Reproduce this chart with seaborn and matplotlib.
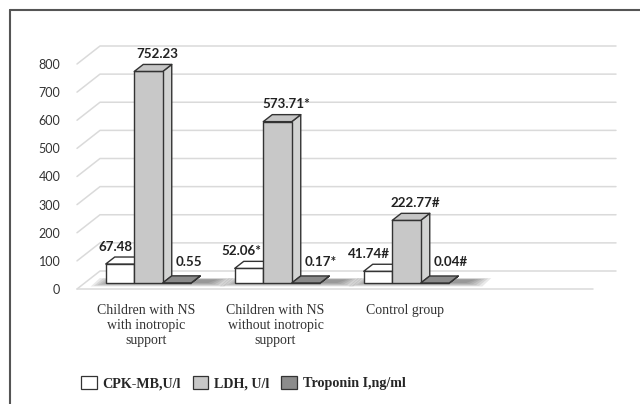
import numpy as np
import pandas as pd
import matplotlib
matplotlib.use("Agg")
import matplotlib.pyplot as plt
import matplotlib.transforms as mtransforms
from matplotlib.patches import Polygon, Patch
from matplotlib.lines import Line2D
import seaborn as sns

# ---------------- data ----------------
categories = ["Children with NS\nwith inotropic\nsupport",
              "Children with NS\nwithout inotropic\nsupport",
              "Control group"]
series_names = ["CPK-MB,U/l", "LDH, U/l", "Troponin I,ng/ml"]
cpk = [67.48, 52.06, 41.74]
ldh = [752.23, 573.71, 222.77]
trop = [0.55, 0.17, 0.04]
cpk_marks = ["", "*", "#"]
ldh_marks = ["", "*", "#"]
trop_marks = ["", "*", "#"]
yticks = [0, 100, 200, 300, 400, 500, 600, 700, 800]

# ---------------- styling ----------------
sns.set_style("white")
plt.rcParams["font.family"] = ["Lato", "DejaVu Sans"]

face_front = ["#ffffff", "#c8c8c8", "#8c8c8c"]
face_top = ["#ffffff", "#c6c6c6", "#8a8a8a"]
face_side = ["#ffffff", "#d2d3d2", "#6e6e6e"]
edge = "#333333"

W, H = 640, 404
fig = plt.figure(figsize=(W / 100, H / 100), dpi=100)
# axes = front plane of the 3D chart
ax_l, ax_r, ax_t, ax_b = 77, 593, 64, 289
ax = fig.add_axes([ax_l / W, 1 - ax_b / H, (ax_r - ax_l) / W, (ax_b - ax_t) / H])

df = pd.DataFrame({
    "category": np.repeat(categories, 3),
    "series": series_names * len(categories),
    "value": np.ravel(np.column_stack([cpk, ldh, trop])),
})

sns.barplot(data=df, x="category", y="value", hue="series", order=categories,
            hue_order=series_names, palette=face_front, width=0.663,
            edgecolor=edge, linewidth=1.0, saturation=1, legend=False, ax=ax)

ax.set_xlim(-0.5, 3.5)
ax.set_ylim(0, 800)
ax.set_yticks(yticks)
ax.set_xticks(range(len(categories)))
ax.set_xticklabels(categories, fontfamily="Liberation Serif", fontsize=10,
                   color="#333333")
ax.set_xlabel("")
ax.set_ylabel("")
for s in ax.spines.values():
    s.set_visible(False)
ax.grid(False)
ax.tick_params(axis="both", length=0)
ax.tick_params(axis="y", pad=12, labelsize=9, labelcolor="#333333")
ax.tick_params(axis="x", pad=11)
for lab in ax.get_xticklabels():
    lab.set_transform(lab.get_transform() +
                      mtransforms.ScaledTranslation(0.05, 0, fig.dpi_scale_trans))

# pixel -> data conversion
sx = 1.0 / ((ax_r - ax_l) / 4.0)          # per px horizontally
sy = 800.0 / (ax_b - ax_t)                # per px vertically

# back wall / floor gridlines (depth offset 23px right, 18px up)
gdx, gdy = 23 * sx, 18 * sy
gcol = "#dadada"
for v in yticks:
    ax.plot([-0.5, -0.5 + gdx, 3.5 + gdx], [v, v + gdy, v + gdy],
            color=gcol, lw=1.1, clip_on=False, zorder=0.5)
ax.plot([-0.5, 3.5], [0, 0], color=gcol, lw=1.1, clip_on=False, zorder=0.5)

# bars: move to mid depth, add top and side faces
ox, oy = 7 * sx, 6 * sy
ddx, ddy = 9 * sx, 7 * sy
n = len(categories)
patches = list(ax.patches)
bars = {}
for k, p in enumerate(patches):
    si, ci = k // n, k % n
    p.set_x(p.get_x() + ox)
    p.set_y(p.get_y() + oy)
    p.set_clip_on(False)
    p.set_zorder(3 + ci * 3 + si)
    bars[(ci, si)] = p

# soft floor shadows under each group
for ci in range(n):
    left = bars[(ci, 0)].get_x()
    right = bars[(ci, 2)].get_x() + bars[(ci, 2)].get_width() + ddx
    y0 = oy
    for k in range(6):
        ex, ey = (1 + k * 3.2) * sx, (k * 0.7) * sy
        sh = 7 * sx
        poly = Polygon([(left - ex + 2 * sx, y0 - ey), (right + ex + sh, y0 - ey),
                        (right + ex + sh + ddx, y0 + ddy * 0.5 + ey * 0.4),
                        (left - ex + 2 * sx + ddx, y0 + ddy * 0.5 + ey * 0.4)],
                       closed=True, facecolor="#2a2a2a", edgecolor="none",
                       alpha=0.10, clip_on=False, zorder=1)
        ax.add_patch(poly)

for (ci, si), p in bars.items():
    x0, w = p.get_x(), p.get_width()
    y0, h = p.get_y(), p.get_height()
    top = y0 + h
    z = p.get_zorder()
    side = Polygon([(x0 + w, y0), (x0 + w + ddx, y0 + ddy),
                    (x0 + w + ddx, top + ddy), (x0 + w, top)],
                   closed=True, facecolor=face_side[si], edgecolor=edge,
                   lw=1.0, clip_on=False, zorder=z - 0.1, joinstyle="round")
    tp = Polygon([(x0, top), (x0 + w, top), (x0 + w + ddx, top + ddy),
                  (x0 + ddx, top + ddy)],
                 closed=True, facecolor=face_top[si], edgecolor=edge,
                 lw=1.0, clip_on=False, zorder=z + 0.1, joinstyle="round")
    ax.add_patch(side)
    ax.add_patch(tp)

# value labels
vals = [cpk, ldh, trop]
marks = [cpk_marks, ldh_marks, trop_marks]
for (ci, si), p in bars.items():
    x0, w = p.get_x(), p.get_width()
    top = p.get_y() + p.get_height() + ddy
    txt = f"{vals[si][ci]:.2f}{marks[si][ci]}"
    if si == 0:
        xy, ha, off = (x0 + w, top), "right", (-1.5, 3)
    elif si == 1:
        xy, ha, off = (x0 + w / 2 + ddx / 2, top), "center", (3, 3)
    else:
        xy, ha, off = (x0, top), "left", (9.5, 6)
    ax.annotate(txt, xy=xy, xytext=off, textcoords="offset points",
                ha=ha, va="bottom", fontsize=9.6, fontweight="bold",
                color="#222222", zorder=20, annotation_clip=False)

# legend
handles = [Patch(facecolor=face_front[i], edgecolor=edge, lw=0.9)
           for i in range(3)]
fig.legend(handles, series_names, loc="center left",
           bbox_to_anchor=(81 / W, 1 - 383 / H), ncol=3, frameon=False,
           borderpad=0, borderaxespad=0, handlelength=1.1, handleheight=1.1,
           handletextpad=0.4, columnspacing=0.85,
           prop={"family": "Liberation Serif", "weight": "bold", "size": 10.2})

# outer frame (partially visible)
fig.add_artist(Line2D([10 / W, 1], [1 - 10 / H, 1 - 10 / H],
                      transform=fig.transFigure, color="#555555", lw=1.5))
fig.add_artist(Line2D([10 / W, 10 / W], [0, 1 - 10 / H],
                      transform=fig.transFigure, color="#555555", lw=1.5))

fig.savefig("out.png", dpi=100, facecolor="white")
